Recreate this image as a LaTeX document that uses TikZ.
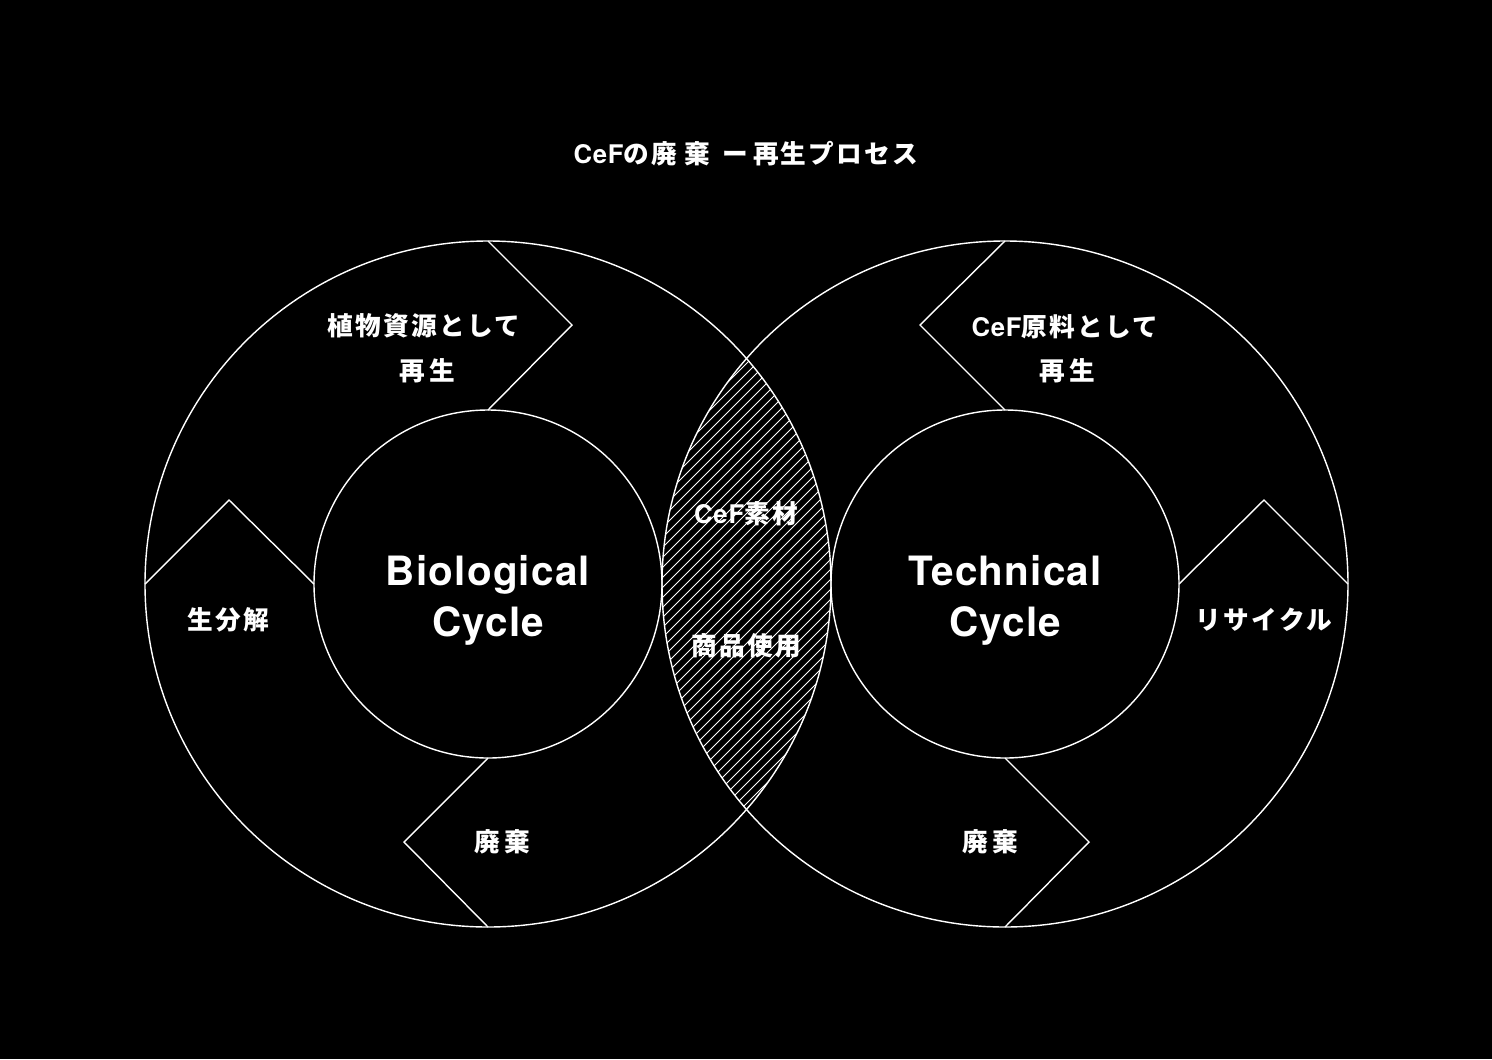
\documentclass[tikz,border=0pt]{standalone}
\usepackage{fontspec}
\setmainfont{TeX Gyre Heros}
\newfontfamily\jpfont{Noto Sans CJK JP}[LetterSpace=9]
\newfontfamily\enfont{TeX Gyre Heros}[LetterSpace=3]
\newcommand{\wide}{\hspace{2.3pt}}

\begin{document}
\begin{tikzpicture}[x=0.02cm, y=-0.02cm, line width=0.8pt, draw=white,
  every node/.style={text=white, inner sep=0pt},
  label/.style={font=\jpfont\bfseries\fontsize{14.6}{17}\selectfont},
  cyclename/.style={font=\enfont\bfseries\fontsize{23}{27}\selectfont, anchor=base},
  hatch/.style={line width=0.55pt}]
% Background
\useasboundingbox (0,0) rectangle (1492,1059);
\fill[black] (0,0) rectangle (1492,1059);

% Hatched overlap
\begin{scope}
  \clip (488,584) circle (343);
  \clip (1005,584) circle (343);
  \foreach \k in {-26,...,26}
    \draw[hatch] ({446+\k*10},884) -- ({1046+\k*10},284);
\end{scope}

% Outer and inner circles
\draw (488,584) circle (343);
\draw (1005,584) circle (343);
\draw (488,584) circle (174);
\draw (1005,584) circle (174);

% Arrow marks, biological cycle
\draw (488,241) -- (572,325) -- (488,410);
\draw (145,584) -- (229,500) -- (314,584);
\draw (488,758) -- (404,842) -- (488,927);

% Arrow marks, technical cycle
\draw (1005,241) -- (920,325) -- (1005,410);
\draw (1179,584) -- (1264,500) -- (1348,584);
\draw (1005,758) -- (1089,842) -- (1005,927);

% Title
\node[label] (title) at (746,154)
  {{\enfont CeF}の廃\hspace{4pt}棄\hspace{7pt}ー\hspace{3pt}再生プロセス};

% Biological cycle
\node[cyclename] (bioname) at (488,585) {Biological};
\node[cyclename] (biocycle) at (488,636) {Cycle};
\node[label] (bioregen) at (424,326) {植物資源として};
\node[label] (bioregenb) at (427,371) {再\wide 生};
\node[label] (biodecomp) at (228,620) {生分解};
\node[label] (biowaste) at (502,842) {廃\wide 棄};

% Overlap
\node[label] (material) at (746,514) {{\enfont CeF}素材};
\node[label] (product) at (746,646) {商品使用};

% Technical cycle
\node[cyclename] (techname) at (1005,585) {Technical};
\node[cyclename] (techcycle) at (1005,636) {Cycle};
\node[label] (techregen) at (1065,327) {{\enfont CeF}原料として};
\node[label] (techregenb) at (1067,371) {再\wide 生};
\node[label] (techrecycle) at (1264,620) {リサイクル};
\node[label] (techwaste) at (990,842) {廃\wide 棄};
\end{tikzpicture}
\end{document}
